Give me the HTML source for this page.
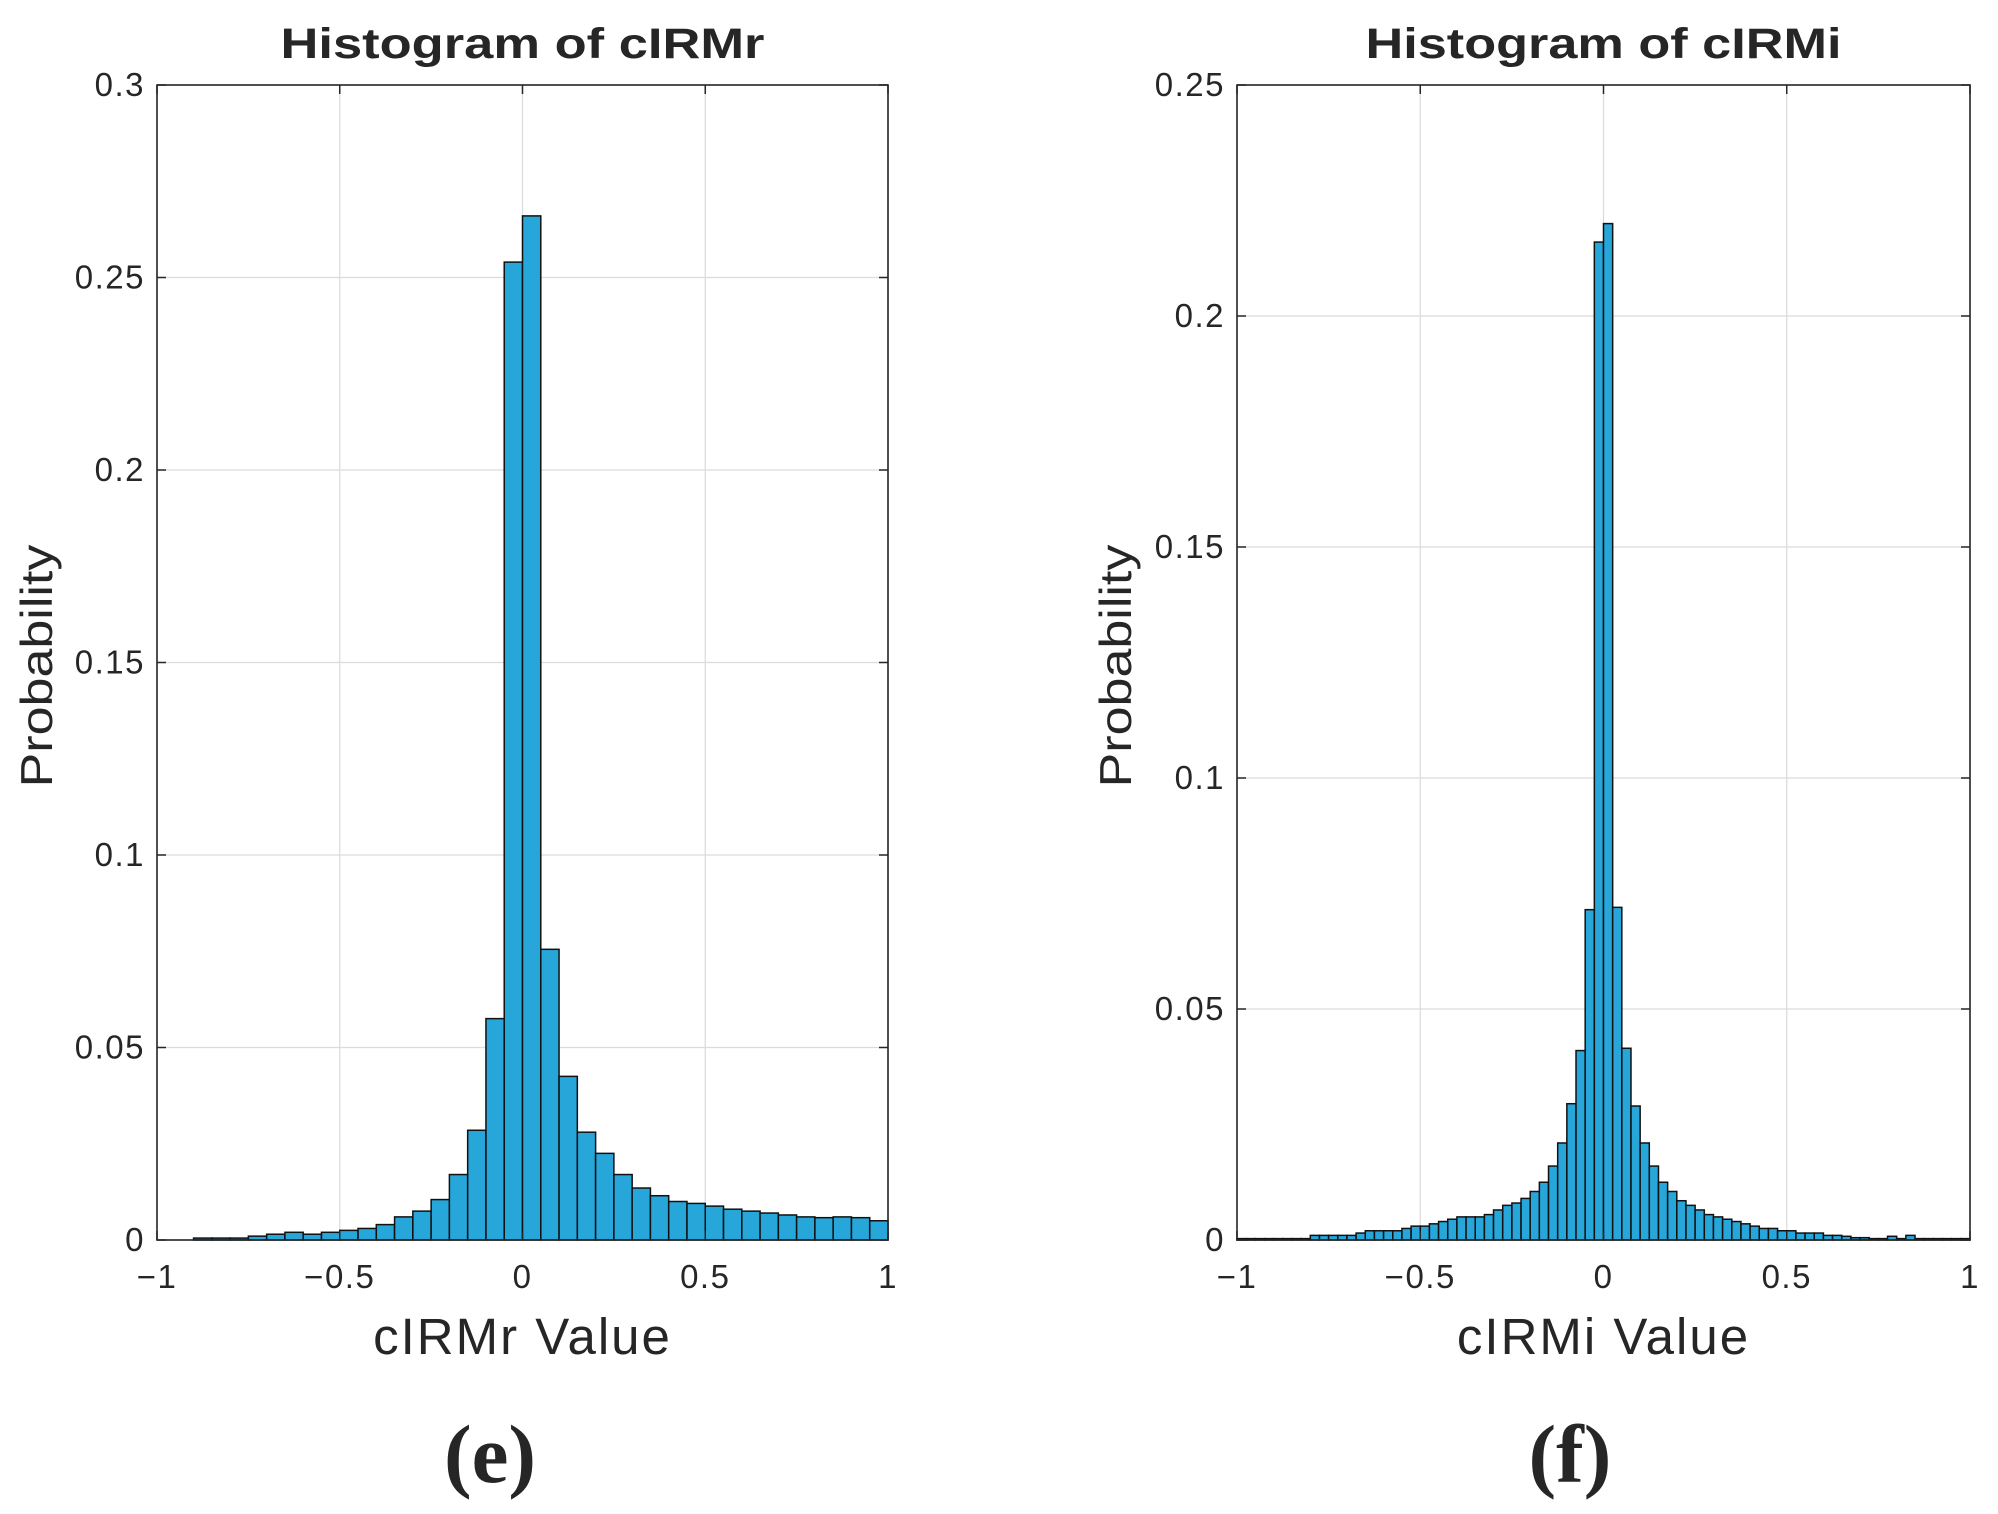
<!DOCTYPE html>
<html><head><meta charset="utf-8"><style>
html,body{margin:0;padding:0;background:#fff}
svg{display:block}
text{font-family:"Liberation Sans",sans-serif;fill:#262626}
</style></head><body>
<svg id="fig" width="1998" height="1514" viewBox="0 0 1998 1514" xmlns="http://www.w3.org/2000/svg"></svg>
<script>
const leftEdgesStart = -1, leftBinWidth = 0.05;
const leftValues = [0,0,0.0005,0.0005,0.0005,0.001,0.0015,0.002,0.0015,0.002,0.0025,0.003,0.004,0.006,0.0075,0.0105,0.017,0.0285,0.0575,0.254,
  0.266,0.0755,0.0425,0.028,0.0225,0.017,0.0135,0.0115,0.01,0.0095,0.0088,0.008,0.0075,0.007,0.0065,0.006,0.0058,0.006,0.0058,0.005];
const rightEdgesStart = -1, rightBinWidth = 0.025;
const rightValues = [0.0003,0.0003,0.0003,0.0003,0.0003,0.0003,0.0003,0.0003,
  0.001,0.001,0.001,0.001,0.001,0.0015,
  0.002,0.002,0.002,0.002,0.0025,0.003,
  0.003,0.0035,0.004,0.0045,0.005,0.005,
  0.005,0.0055,0.0065,0.0075,0.008,0.009,
  0.0105,0.0125,0.016,0.021,0.0295,0.041,0.0715,0.216,
  0.22,0.072,0.0415,0.029,0.021,0.016,0.0125,0.0105,
  0.0085,0.0075,0.0065,0.0055,0.005,0.0045,
  0.004,0.0035,0.003,0.0025,0.0025,0.002,
  0.002,0.0015,0.0015,0.0015,0.001,0.001,
  0.0008,0.0005,0.0005,0.0003,0.0003,0.0008,
  0.0003,0.001,0.0003,0.0003,0.0003,0.0003,0.0003,0.0003];
const xTicks = [-1,-0.5,0,0.5,1];
const xTickLabels = ["\u22121","\u22120.5","0","0.5","1"];
const leftYTicks = [0,0.05,0.1,0.15,0.2,0.25,0.3];
const leftYTickLabels = ["0","0.05","0.1","0.15","0.2","0.25","0.3"];
const rightYTicks = [0,0.05,0.1,0.15,0.2,0.25];
const rightYTickLabels = ["0","0.05","0.1","0.15","0.2","0.25"];

const NS = "http://www.w3.org/2000/svg";
const svg = document.getElementById('fig');
function mk(tag, attrs, parent){const e=document.createElementNS(NS,tag);for(const k in attrs)e.setAttribute(k,attrs[k]);(parent||svg).appendChild(e);return e;}

function panel(cfg){
  const g = mk('g',{});
  
  
  const L=cfg.x0,R=cfg.x1,T=85,B=1240;
  const sx=v=>L+(v+1)/2*(R-L);
  const sy=v=>B-v/cfg.ymax*(B-T);
  mk('rect',{x:L,y:T,width:R-L,height:B-T,fill:'#fff'},g);
  xTicks.forEach(t=>{const l=mk('line',{x1:sx(t),x2:sx(t),y1:T,y2:B,stroke:'#dcdcdc','stroke-width':1.3},g);
    });
  cfg.yt.forEach(t=>{const l=mk('line',{x1:L,x2:R,y1:sy(t),y2:sy(t),stroke:'#dcdcdc','stroke-width':1.3},g);
    });
  cfg.vals.forEach((v,i)=>{const a=cfg.start+i*cfg.bw,b=a+cfg.bw;
    if(v<=0)return;
    const r=mk('rect',{x:sx(a),y:sy(v),width:sx(b)-sx(a),height:B-sy(v),fill:'#27a6da',stroke:'#111','stroke-width':1.5},g);
    
    });
  const box=mk('rect',{x:L,y:T,width:R-L,height:B-T,fill:'none',stroke:'#262626','stroke-width':1.6},g);
  
  xTicks.forEach((t,i)=>{
    mk('line',{x1:sx(t),x2:sx(t),y1:B,y2:B-9,stroke:'#262626','stroke-width':1.5},g);
    mk('line',{x1:sx(t),x2:sx(t),y1:T,y2:T+9,stroke:'#262626','stroke-width':1.5},g);
    const tx=mk('text',{x:sx(t),y:B+48,'text-anchor':'middle','font-size':33,'letter-spacing':1.5},g);tx.textContent=xTickLabels[i];
    });
  cfg.yt.forEach((t,i)=>{
    mk('line',{x1:L,x2:L+9,y1:sy(t),y2:sy(t),stroke:'#262626','stroke-width':1.5},g);
    mk('line',{x1:R,x2:R-9,y1:sy(t),y2:sy(t),stroke:'#262626','stroke-width':1.5},g);
    const tx=mk('text',{x:L-12,y:sy(t)+11,'text-anchor':'end','font-size':33,'letter-spacing':1.5},g);tx.textContent=cfg.ytl[i];
    });
  const ti=mk('text',{x:(L+R)/2-cfg.titleW/2,y:58,'font-size':43,'font-weight':'bold',fill:'#000',textLength:cfg.titleW,lengthAdjust:'spacingAndGlyphs'},g);
  ti.textContent=cfg.title;
  const xl=mk('text',{x:(L+R)/2,y:1354,'text-anchor':'middle','font-size':51,'letter-spacing':2},g);
  xl.textContent=cfg.xlabel;
  const yl=mk('text',{x:0,y:0,'text-anchor':'middle','font-size':52,transform:`translate(${cfg.ylx},666) rotate(-90) scale(1.0,0.86)`},g);
  yl.textContent='Probability';
  const pl=mk('text',{x:cfg.letterX,y:1482,'text-anchor':'middle','font-size':83,'font-weight':'bold',fill:'#000',style:'font-family:"Liberation Serif",serif'},g);
  pl.textContent=cfg.letter;
}
panel({name:'histogram-cirmr',x0:157,x1:888,ymax:0.3,yt:leftYTicks,ytl:leftYTickLabels,vals:leftValues,start:leftEdgesStart,bw:leftBinWidth,title:'Histogram of cIRMr',titleW:484,xlabel:'cIRMr Value',ylx:52,letter:'(e)',letterX:490});
panel({name:'histogram-cirmi',x0:1237,x1:1970,ymax:0.25,yt:rightYTicks,ytl:rightYTickLabels,vals:rightValues,start:rightEdgesStart,bw:rightBinWidth,title:'Histogram of cIRMi',titleW:476,xlabel:'cIRMi Value',ylx:1131,letter:'(f)',letterX:1570});
</script>
</body></html>
